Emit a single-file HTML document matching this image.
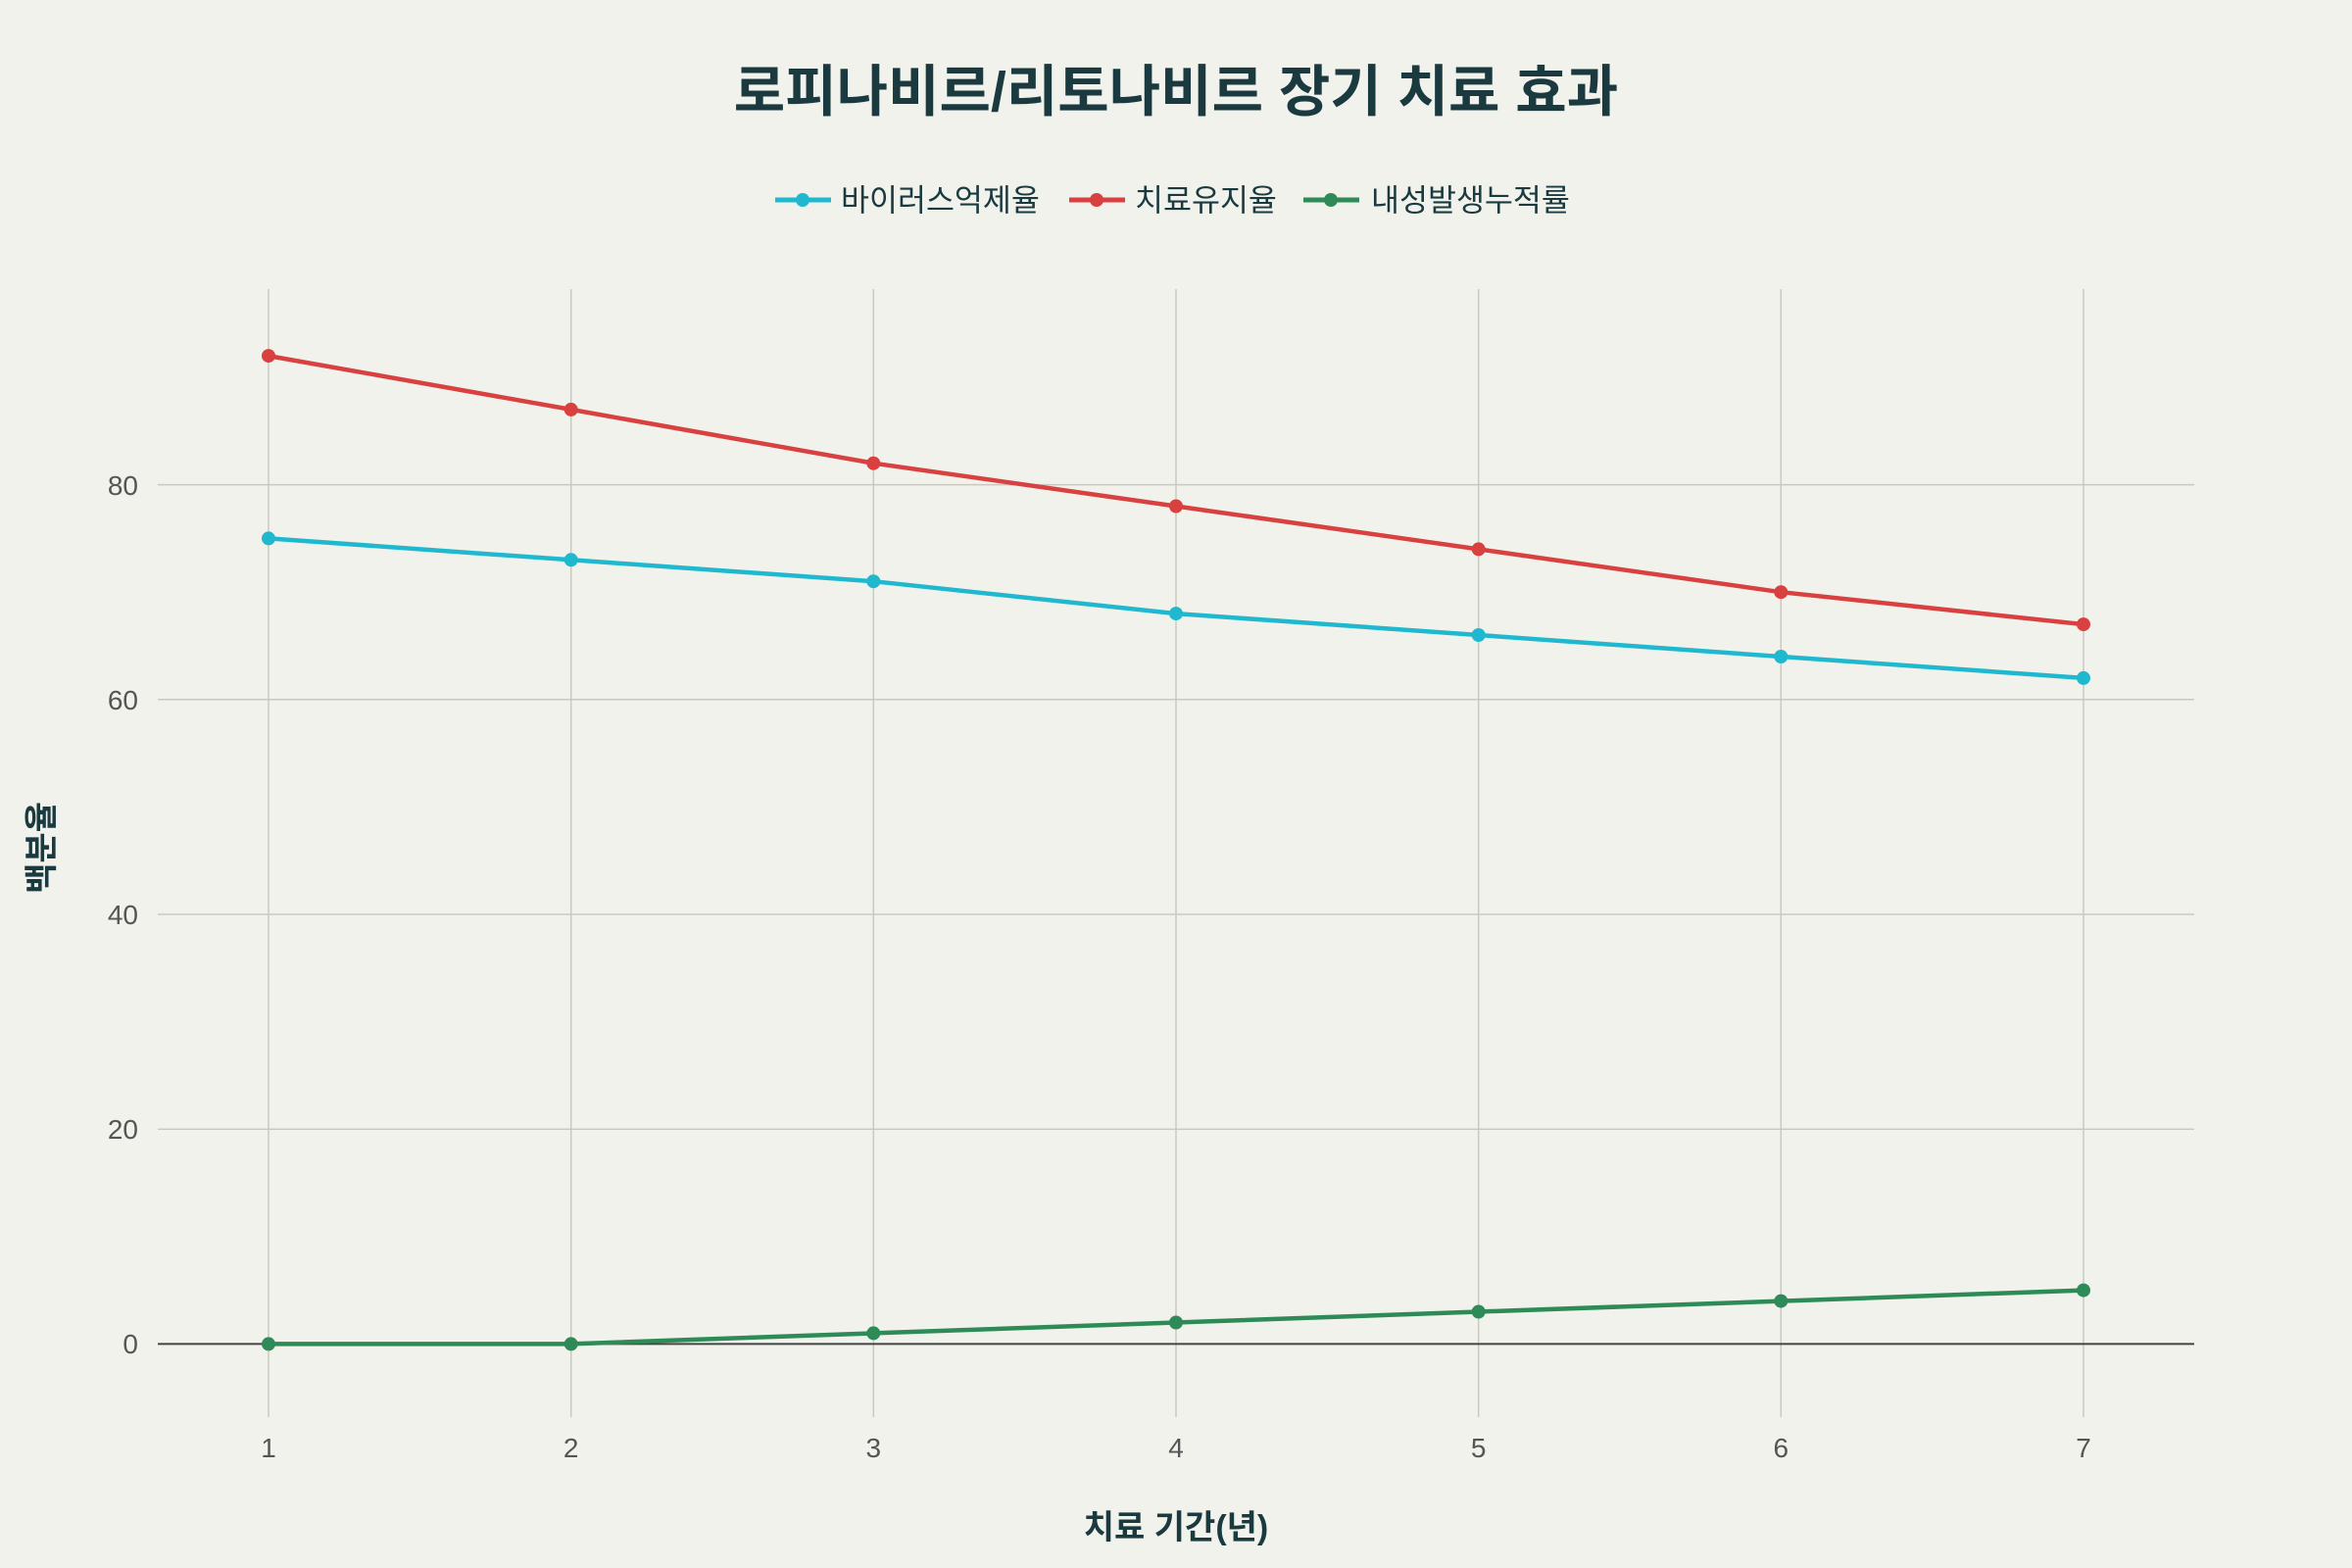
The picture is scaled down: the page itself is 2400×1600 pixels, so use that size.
<!DOCTYPE html>
<html><head><meta charset="utf-8"><style>
html,body{margin:0;padding:0;background:#f2f2ec;}
svg{display:block;}
text{font-family:"Liberation Sans","Noto Sans CJK KR",sans-serif;}
</style></head><body>
<svg width="2400" height="1600" viewBox="0 0 2400 1600" xmlns="http://www.w3.org/2000/svg">
<rect width="2400" height="1600" fill="#f2f2ec"/>
<text x="1200" y="113" text-anchor="middle" font-size="57" font-weight="bold" fill="#1a3a3f">로피나비르/리토나비르 장기 치료 효과</text>
<g font-size="31.5" fill="#1a3a3f">
<line x1="791" y1="204" x2="848" y2="204" stroke="#1fb8cf" stroke-width="5"/><circle cx="819" cy="204" r="7" fill="#1fb8cf"/>
<text x="858" y="215">바이러스억제율</text>
<line x1="1091" y1="204" x2="1148" y2="204" stroke="#d94040" stroke-width="5"/><circle cx="1119" cy="204" r="7" fill="#d94040"/>
<text x="1158" y="215">치료유지율</text>
<line x1="1330" y1="204" x2="1387" y2="204" stroke="#2e8b57" stroke-width="5"/><circle cx="1358" cy="204" r="7" fill="#2e8b57"/>
<text x="1399" y="215">내성발생누적률</text>
</g>
<g stroke="#c9c9c2" stroke-width="1.5">
<line x1="274" y1="295" x2="274" y2="1446"/><line x1="582.7" y1="295" x2="582.7" y2="1446"/><line x1="891.3" y1="295" x2="891.3" y2="1446"/><line x1="1200" y1="295" x2="1200" y2="1446"/><line x1="1508.7" y1="295" x2="1508.7" y2="1446"/><line x1="1817.3" y1="295" x2="1817.3" y2="1446"/><line x1="2126" y1="295" x2="2126" y2="1446"/>
<line x1="161" y1="1152.2" x2="2239" y2="1152.2"/><line x1="161" y1="933" x2="2239" y2="933"/><line x1="161" y1="713.8" x2="2239" y2="713.8"/><line x1="161" y1="494.6" x2="2239" y2="494.6"/>
</g>
<line x1="161" y1="1371.4" x2="2239" y2="1371.4" stroke="#444" stroke-width="2"/>
<g font-size="28" fill="#555" text-anchor="end">
<text x="141" y="1381">0</text><text x="141" y="1162">20</text><text x="141" y="943">40</text><text x="141" y="724">60</text><text x="141" y="505">80</text>
</g>
<g font-size="28" fill="#555" text-anchor="middle">
<text x="274" y="1487">1</text><text x="582.7" y="1487">2</text><text x="891.3" y="1487">3</text><text x="1200" y="1487">4</text><text x="1508.7" y="1487">5</text><text x="1817.3" y="1487">6</text><text x="2126" y="1487">7</text>
</g>
<text x="1200" y="1570" text-anchor="middle" font-size="34" font-weight="bold" fill="#1a3a3f">치료 기간(년)</text>
<text transform="translate(54,865) rotate(-90)" text-anchor="middle" font-size="34" font-weight="bold" fill="#1a3a3f">백분율</text>
<g fill="none" stroke-width="4.5" stroke-linejoin="round">
<polyline stroke="#d94040" points="274,363.1 582.7,417.9 891.3,472.7 1200,516.5 1508.7,560.4 1817.3,604.2 2126,637.1"/>
<polyline stroke="#1fb8cf" points="274,549.4 582.7,571.3 891.3,593.2 1200,626.1 1508.7,648 1817.3,670 2126,691.9"/>
<polyline stroke="#2e8b57" points="274,1371.4 582.7,1371.4 891.3,1360.4 1200,1349.5 1508.7,1338.5 1817.3,1327.6 2126,1316.6"/>
</g>
<g fill="#d94040"><circle cx="274" cy="363.1" r="7"/><circle cx="582.7" cy="417.9" r="7"/><circle cx="891.3" cy="472.7" r="7"/><circle cx="1200" cy="516.5" r="7"/><circle cx="1508.7" cy="560.4" r="7"/><circle cx="1817.3" cy="604.2" r="7"/><circle cx="2126" cy="637.1" r="7"/></g>
<g fill="#1fb8cf"><circle cx="274" cy="549.4" r="7"/><circle cx="582.7" cy="571.3" r="7"/><circle cx="891.3" cy="593.2" r="7"/><circle cx="1200" cy="626.1" r="7"/><circle cx="1508.7" cy="648" r="7"/><circle cx="1817.3" cy="670" r="7"/><circle cx="2126" cy="691.9" r="7"/></g>
<g fill="#2e8b57"><circle cx="274" cy="1371.4" r="7"/><circle cx="582.7" cy="1371.4" r="7"/><circle cx="891.3" cy="1360.4" r="7"/><circle cx="1200" cy="1349.5" r="7"/><circle cx="1508.7" cy="1338.5" r="7"/><circle cx="1817.3" cy="1327.6" r="7"/><circle cx="2126" cy="1316.6" r="7"/></g>
</svg>
</body></html>
